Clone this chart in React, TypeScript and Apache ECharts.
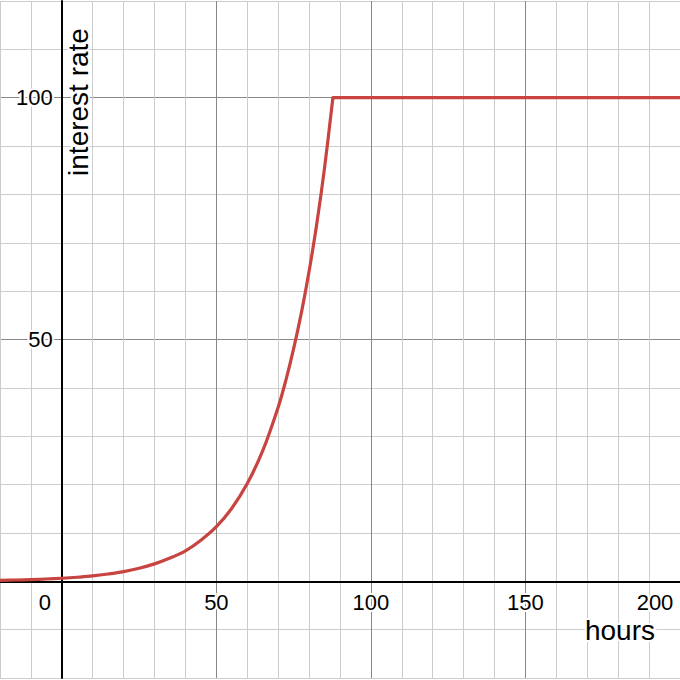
import React, { useEffect, useRef } from "react";
import * as echarts from "echarts";

const hours = [-20, -15, -10, -5, 0, 5, 10, 15, 20, 25, 30, 35, 40, 45, 50, 55, 60, 65, 70, 72.5, 75, 77.5, 80, 82.5, 85, 87.7, 200];
const rate = [0.2, 0.27, 0.35, 0.47, 0.63, 0.84, 1.1, 1.5, 2.0, 2.7, 3.6, 4.8, 6.3, 8.5, 11.3, 15.1, 20.2, 27.0, 36.0, 41.6, 48.1, 55.5, 64.1, 74.0, 85.5, 100, 100];
const xTickLabels = [0, 50, 100, 150, 200];
const yTickLabels = [50, 100];

const FONT = "'Liberation Sans', Arial, sans-serif";
const LIGHT = "#cdcdcd";
const DARK = "#888888";
const RED = "#c74440";

const X_MIN = -20, X_MAX = 200, Y_MIN = -20, Y_MAX = 120;
const W = 680, H = 680, TOP = 1, BOTTOM = 2;

export default function App() {
  const ref = useRef<HTMLDivElement>(null);
  useEffect(() => {
    if (!ref.current) return;
    const chart = echarts.init(ref.current, undefined, { renderer: "svg" });
    const data = hours.map((h, i) => [h, rate[i]]);
    const capIndex = rate.indexOf(100);
    const rising = data.slice(0, capIndex + 1);
    const plateau = data.slice(capIndex);
    const plotH = H - TOP - BOTTOM;
    const zeroY = TOP + ((Y_MAX - 0) / (Y_MAX - Y_MIN)) * plotH;
    const zeroX = ((0 - X_MIN) / (X_MAX - X_MIN)) * W;
    const labelBase = {
      fontSize: 22,
      fontFamily: FONT,
      color: "#000",
      textBorderColor: "#fff",
      textBorderWidth: 4,
    };
    chart.setOption({
      animation: false,
      backgroundColor: "#fff",
      grid: [
        { left: 0, right: 0, top: TOP, bottom: BOTTOM, containLabel: false, outerBoundsMode: "none" },
        { left: 0, right: 0, top: TOP, bottom: H - zeroY, containLabel: false, outerBoundsMode: "none" },
        { left: zeroX, right: 0, top: TOP, bottom: BOTTOM, containLabel: false, outerBoundsMode: "none" },
      ],
      xAxis: [
        {
          type: "value",
          gridIndex: 0,
          min: X_MIN,
          max: X_MAX,
          interval: 10,
          axisLine: { show: true, onZero: true, lineStyle: { color: "#000", width: 2 } },
          axisTick: { show: false },
          axisLabel: { show: false },
          splitLine: { show: true, lineStyle: { color: [LIGHT, LIGHT, DARK, LIGHT, LIGHT], width: 1 } },
          z: 5,
        },
        {
          type: "value",
          gridIndex: 1,
          min: X_MIN,
          max: X_MAX,
          interval: 10,
          axisLine: { show: false, onZero: false },
          axisTick: { show: false },
          splitLine: { show: false },
          axisLabel: {
            ...labelBase,
            margin: 10,
            showMaxLabel: true,
            showMinLabel: true,
            hideOverlap: false,
            formatter: (v: number) => {
              if (!xTickLabels.includes(v)) return "";
              if (v === 0) return "{l|0}";
              if (v === 200) return "{r|200}";
              return String(v);
            },
            rich: {
              l: { ...labelBase, padding: [0, 34, 0, 0] },
              r: { ...labelBase, padding: [0, 50, 0, 0] },
            },
          },
          z: 20,
        },
        { type: "value", gridIndex: 2, min: X_MIN, max: X_MAX, show: false },
      ],
      yAxis: [
        {
          type: "value",
          gridIndex: 0,
          min: Y_MIN,
          max: Y_MAX,
          interval: 10,
          axisLine: { show: true, onZero: true, lineStyle: { color: "#000", width: 2 } },
          axisTick: { show: false },
          axisLabel: { show: false },
          splitLine: { show: true, lineStyle: { color: [LIGHT, LIGHT, DARK, LIGHT, LIGHT], width: 1 } },
          z: 5,
        },
        { type: "value", gridIndex: 1, min: 0, max: Y_MAX, show: false },
        {
          type: "value",
          gridIndex: 2,
          min: Y_MIN,
          max: Y_MAX,
          interval: 10,
          position: "left",
          axisLine: { show: false, onZero: false },
          axisTick: { show: false },
          splitLine: { show: false },
          axisLabel: {
            ...labelBase,
            margin: 9,
            formatter: (v: number) => (yTickLabels.includes(v) ? String(v) : ""),
          },
          z: 20,
        },
      ],
      graphic: [
        {
          type: "text",
          x: 655,
          y: 630,
          style: { text: "hours", fontSize: 28, fontFamily: FONT, fill: "#000", align: "right", verticalAlign: "middle", stroke: "#fff", lineWidth: 4 },
          z: 100,
        },
        {
          type: "text",
          x: 78,
          y: 102,
          rotation: Math.PI / 2,
          style: { text: "interest rate", fontSize: 28, fontFamily: FONT, fill: "#000", align: "center", verticalAlign: "middle", stroke: "#fff", lineWidth: 4 },
          z: 100,
        },
      ],
      series: [
        {
          type: "line",
          name: "interest rate",
          xAxisIndex: 0,
          yAxisIndex: 0,
          data: rising,
          showSymbol: false,
          smooth: 0.35,
          clip: true,
          lineStyle: { color: RED, width: 3.2, join: "round" },
          z: 10,
        },
        {
          type: "line",
          name: "interest rate cap",
          xAxisIndex: 0,
          yAxisIndex: 0,
          data: plateau,
          showSymbol: false,
          smooth: false,
          clip: true,
          lineStyle: { color: RED, width: 3.2, join: "round", cap: "round" },
          z: 10,
        },
      ],
    });
    return () => chart.dispose();
  }, []);
  return <div ref={ref} style={{ position: "absolute", left: 0, top: 0, width: W, height: H, background: "#fff" }} />;
}
